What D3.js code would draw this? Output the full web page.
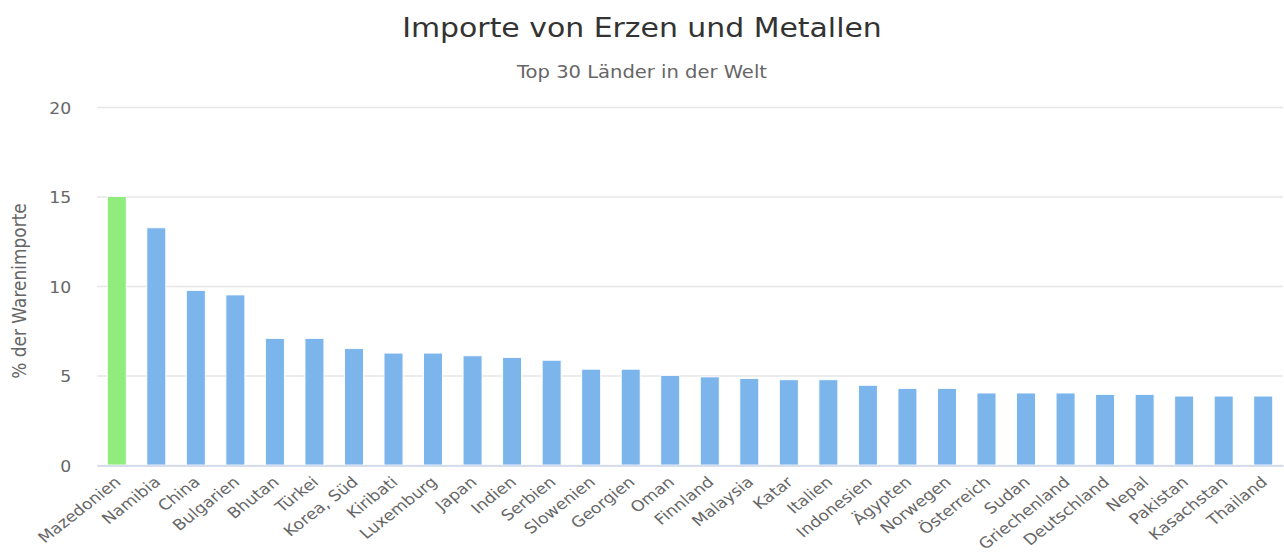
<!DOCTYPE html>
<html>
<head>
<meta charset="utf-8">
<script src="https://cdn.jsdelivr.net/npm/d3@7"></script>
<style>
  html, body { margin: 0; padding: 0; background: #fff; }
  svg { display: block; font-family: "DejaVu Sans", Verdana, sans-serif; }
</style>
</head>
<body>
<div id="chart"></div>
<script>
"use strict";
// the original screenshot is stretched sideways, so we draw in a narrower box and stretch it
let stretch = 1.15;
let width = 1284, height = 557;
let vw = width / stretch;

let countries = ["Mazedonien", "Namibia", "China", "Bulgarien", "Bhutan", "Türkei", "Korea, Süd",
  "Kiribati", "Luxemburg", "Japan", "Indien", "Serbien", "Slowenien", "Georgien", "Oman",
  "Finnland", "Malaysia", "Katar", "Italien", "Indonesien", "Ägypten", "Norwegen", "Österreich",
  "Sudan", "Griechenland", "Deutschland", "Nepal", "Pakistan", "Kasachstan", "Thailand"];
let values = [15.0, 13.25, 9.75, 9.5, 7.07, 7.07, 6.5, 6.25, 6.25, 6.1, 6.0, 5.85, 5.35, 5.35, 5.0,
  4.92, 4.83, 4.76, 4.76, 4.45, 4.27, 4.27, 4.02, 4.02, 4.02, 3.94, 3.94, 3.85, 3.85, 3.85];
let highlighted = ["Mazedonien"];
let yTicks = [0, 5, 10, 15, 20];

let plotLeft = 97 / stretch, plotRight = 1283 / stretch;
let plotTop = 107, plotBottom = 465;

let svg = d3.select("#chart").append("svg")
  .attr("width", width)
  .attr("height", height)
  .attr("viewBox", "0 0 " + vw + " " + height)
  .attr("preserveAspectRatio", "none");

let xScale = d3.scaleBand()
  .domain(countries)
  .range([plotLeft, plotRight])
  .padding(0);

let yScale = d3.scaleLinear()
  .domain([0, 20])
  .range([plotBottom, plotTop]);

// gridlines + y labels
let yAxis = d3.axisLeft(yScale)
  .tickValues(yTicks)
  .tickSize(-(plotRight - plotLeft))
  .tickPadding(plotLeft - 62);

let gy = svg.append("g")
  .attr("transform", "translate(" + plotLeft + ",0)")
  .call(yAxis);
gy.select(".domain").remove();
gy.selectAll(".tick line").attr("stroke", "#e6e6e6").attr("stroke-width", 1.3);
gy.selectAll(".tick text")
  .attr("fill", "#666")
  .style("font-size", "15px")
  .style("font-family", "DejaVu Sans")
  .attr("dy", "0.4em");

// bars
let step = xScale.step();
svg.selectAll("rect.bar")
  .data(values)
  .enter()
  .append("rect")
  .attr("class", "bar")
  .attr("x", function(d, i) { return xScale(countries[i]) + step * 0.26; })
  .attr("y", function(d) { return yScale(d); })
  .attr("width", step * 0.48)
  .attr("height", function(d) { return plotBottom - yScale(d); })
  .attr("fill", function(d, i) { return highlighted.indexOf(countries[i]) >= 0 ? "#90ed7d" : "#7cb5ec"; })
  .attr("stroke", "#fff")
  .attr("stroke-width", 0.8);

// x axis
let xAxis = d3.axisBottom(xScale).tickSize(0).tickPadding(0);
let gx = svg.append("g")
  .attr("transform", "translate(0," + (plotBottom + 0.5) + ")")
  .call(xAxis);
gx.select(".domain").attr("stroke", "#ccd6eb").attr("stroke-width", 1.5);
gx.selectAll(".tick text")
  .attr("fill", "#666")
  .style("font-size", "15px")
  .style("font-family", "DejaVu Sans")
  .attr("text-anchor", "end")
  .attr("dy", "0.35em")
  .attr("transform", "translate(1,14) rotate(-42)");

// titles
svg.append("text")
  .attr("x", vw / 2)
  .attr("y", 37)
  .attr("text-anchor", "middle")
  .attr("fill", "#333")
  .style("font-size", "26px")
  .text("Importe von Erzen und Metallen");

svg.append("text")
  .attr("x", vw / 2)
  .attr("y", 78)
  .attr("text-anchor", "middle")
  .attr("fill", "#666")
  .style("font-size", "17px")
  .text("Top 30 Länder in der Welt");

svg.append("text")
  .attr("transform", "translate(" + (26 / stretch) + "," + 291 + ") rotate(-90)")
  .attr("text-anchor", "middle")
  .attr("fill", "#666")
  .style("font-size", "17px")
  .text("% der Warenimporte");
</script>
</body>
</html>
